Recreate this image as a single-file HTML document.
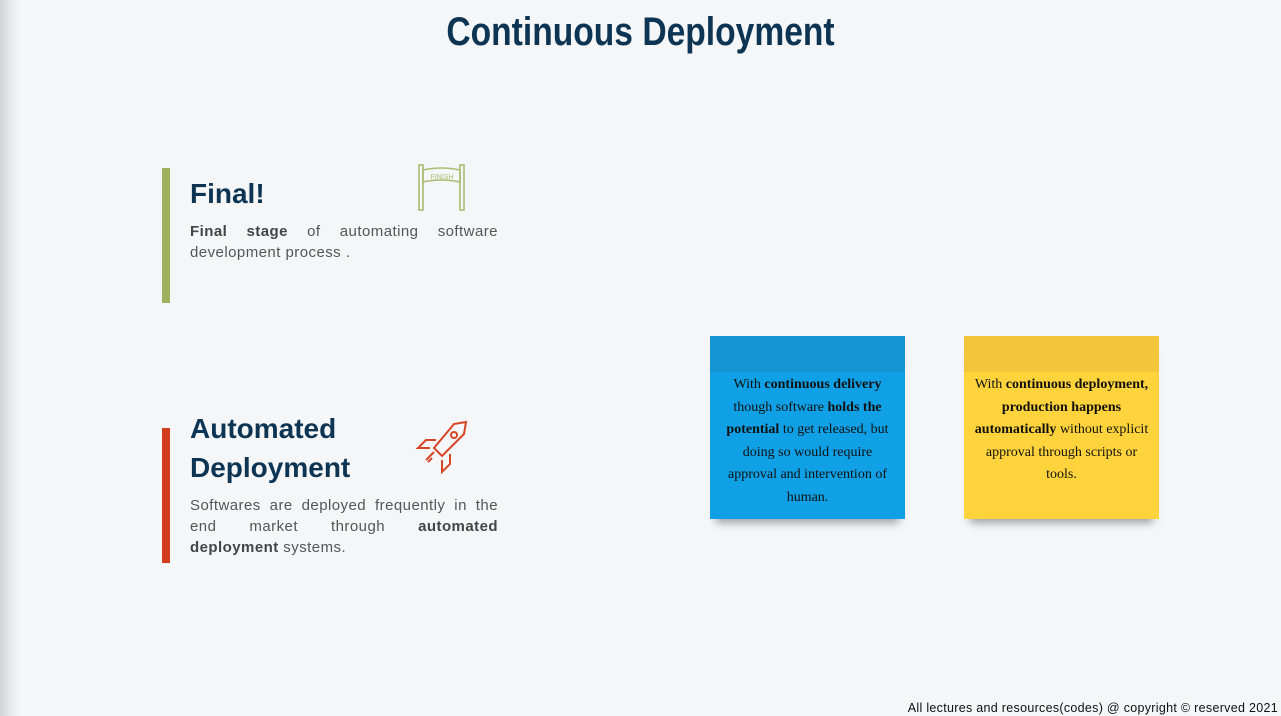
<!DOCTYPE html>
<html><head><style>
body{margin:0;width:1281px;height:716px;background:#f4f6f8;position:relative;overflow:hidden;font-family:"Liberation Sans",sans-serif}
.edge{position:absolute;left:0;top:0;width:22px;height:716px;background:linear-gradient(90deg,#d0d2d4,#eceef0 60%,#f4f6f8)}
h1{position:absolute;left:0;width:1281px;top:10px;margin:0;text-align:center;font-family:"Liberation Sans Narrow","Liberation Sans",sans-serif;font-weight:bold;font-size:40px;color:#0d3553;transform:scaleX(0.84)}
.bar{position:absolute;left:162px;width:8px}
.h{position:absolute;left:190px;margin:0;font-weight:bold;color:#0d3553;font-size:28px;line-height:39px}
.p{position:absolute;left:190px;width:308px;font-size:15px;letter-spacing:0.45px;line-height:21px;color:#555;text-align:justify;text-align-last:left}
.p b{color:#444}
.note{position:absolute;top:336px;width:195px;height:183px;box-shadow:0 10px 8px -6px rgba(0,0,0,.35)}
.note .top{height:36px}
.note .t{padding:2px 8px 0;text-align:center;font-family:"Liberation Serif",serif;font-size:14px;line-height:22.5px;color:#111}
.foot{position:absolute;right:3px;top:701px;font-size:12.5px;letter-spacing:0.3px;color:#111}
</style></head><body>
<div class="edge"></div>
<h1>Continuous Deployment</h1>
<div class="bar" style="top:168px;height:135px;background:#9cb05e"></div>
<div class="h" style="top:174px">Final!</div>
<svg style="position:absolute;left:416px;top:164px" width="54" height="48"><g fill="none" stroke="#a9bd72" stroke-width="1.6"><rect x="3" y="1" width="4" height="45"/><rect x="44" y="1" width="4" height="45"/><path d="M7 6 Q25 2 44 6 L44 18 Q25 14 7 18Z"/></g><text x="26" y="15" font-size="7" fill="#a9bd72" text-anchor="middle" font-family="Liberation Sans">FINISH</text></svg>
<div class="p" style="top:221px"><b>Final stage</b> of automating software development process .</div>
<div class="bar" style="top:428px;height:135px;background:#d23c1f"></div>
<div class="h" style="top:409px">Automated<br>Deployment</div>
<svg style="position:absolute;left:414px;top:418px" width="58" height="58" viewBox="0 0 58 58"><g fill="none" stroke="#d64525" stroke-width="2"><path d="M52 4 L40 6 L20 30 L28 38 L50 16Z"/><circle cx="40" cy="17" r="3"/><path d="M22 22 L12 22 L4 30 L16 30"/><path d="M36 36 L36 46 L28 54 L28 42"/><path d="M20 34 L12 42 M18 40 L14 44"/></g></svg>
<div class="p" style="top:495px">Softwares are deployed frequently in the end market through <b>automated deployment</b> systems.</div>
<div class="note" style="left:710px;background:#10a0e6"><div class="top" style="background:#1594d2"></div><div class="t">With <b>continuous delivery</b> though software <b>holds the potential</b> to get released, but doing so would require approval and intervention of human.</div></div>
<div class="note" style="left:964px;background:#fed33c"><div class="top" style="background:#f3c53a"></div><div class="t">With <b>continuous deployment, production happens automatically</b> without explicit approval through scripts or tools.</div></div>
<div class="foot">All lectures and resources(codes) @ copyright © reserved 2021</div>
</body></html>
